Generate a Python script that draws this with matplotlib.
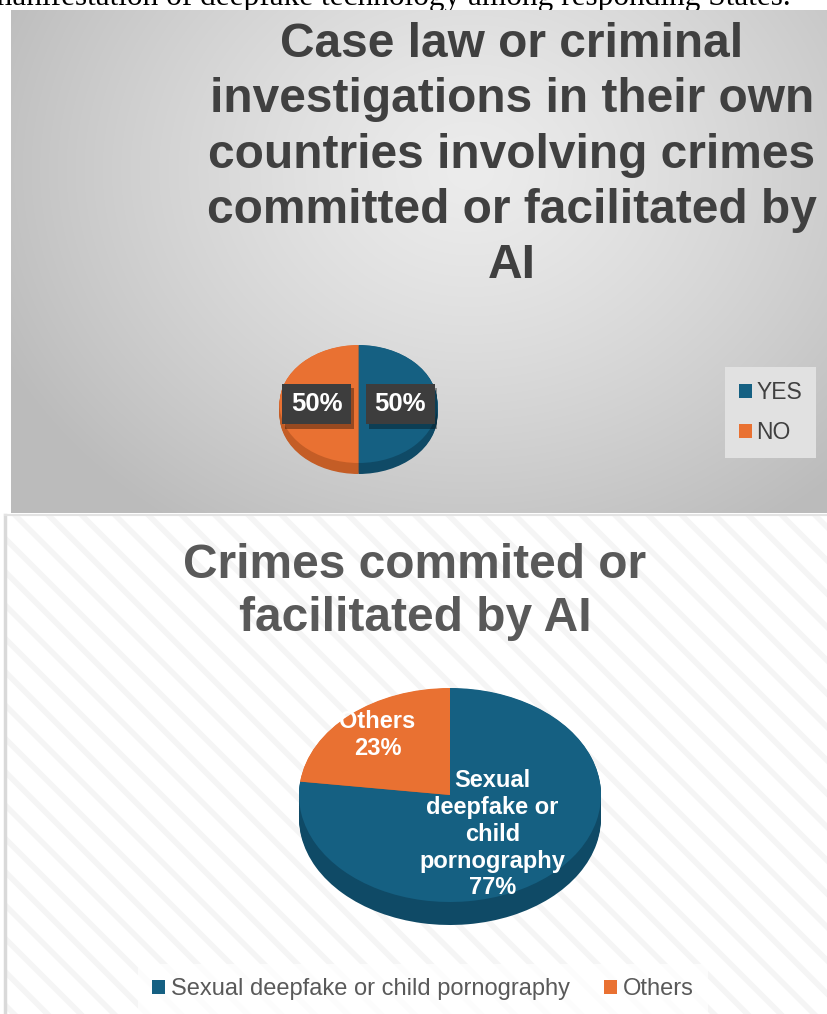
import numpy as np
import matplotlib
matplotlib.use("Agg")
import matplotlib.pyplot as plt
from matplotlib.patches import Rectangle
import matplotlib.patheffects as pe

plt.rcParams['font.family'] = ['Liberation Sans', 'DejaVu Sans']

# Chart 1: case law / investigations
cases_labels = ['YES', 'NO']
cases_values = [50, 50]

# Chart 2: type of crime
crime_labels = ['Sexual deepfake or child pornography', 'Others']
crime_pie_labels = ['Sexual\ndeepfake or\nchild\npornography', 'Others']
crime_values = [77, 23]

BLUE = '#156082'
ORANGE = '#E97132'
BLUE_SIDE = '#0f4a66'
ORANGE_SIDE = '#c45d26'

W, H = 828, 1014
fig = plt.figure(figsize=(W / 100, H / 100), dpi=100)

# full-size canvas in pixel coordinates for the backgrounds
bg = fig.add_axes([0, 0, 1, 1])
bg.set_xlim(0, W)
bg.set_ylim(H, 0)
bg.axis('off')

# header line of the surrounding document (the panel hides its lower part)
bg.text(-12, 5, 'manifestation of deepfake technology among responding States.',
        family='Liberation Serif', fontsize=22.5, color='black', va='baseline', ha='left',
        zorder=-1)

# top panel: grey radial gradient
x0, x1, y0, y1 = 11, 828, 10, 513
yy, xx = np.mgrid[y0:y1, x0:x1]
d = np.sqrt(((xx - 470) / 520.0) ** 2 + ((yy - 170) / 430.0) ** 2)
d = np.clip(d, 0, 1)
shade = 0.925 - 0.19 * d ** 1.3
img = np.dstack([shade, shade, shade])
bg.imshow(img, extent=(x0, x1, y1, y0), aspect='auto', interpolation='bilinear', zorder=0)

# bottom panel: white with faint diagonal stripes
plt.rcParams['hatch.linewidth'] = 4
bg.add_patch(Rectangle((5, 515), W - 5, H - 515, facecolor='white', edgecolor='none', zorder=0))
bg.add_patch(Rectangle((5, 515), W - 5, H - 515, facecolor='none', edgecolor='#f5f5f5',
                       hatch='\\', linewidth=0, zorder=0.5))
bg.plot([5, 5], [515, H], color='#d9d9d9', lw=2.5, zorder=1)
bg.plot([5, W], [515, 515], color='#e3e3e3', lw=1.5, zorder=1)

# titles
bg.text(512, 155, 'Case law or criminal\ninvestigations in their own\ncountries involving crimes\n'
        'committed or facilitated by\nAI', ha='center', va='center', fontsize=34.5,
        fontweight='bold', color='#404040', linespacing=1.29)
bg.text(415, 592, 'Crimes commited or\nfacilitated by AI', ha='center', va='center',
        fontsize=34.5, fontweight='bold', color='#595959', linespacing=1.22)


def pie_3d(cx, cy, rx, ry, depth, values, colors, side_colors):
    # axes sized so that one data unit is rx pixels wide and ry pixels high
    xl, xr, yb, yt = -1.1, 1.1, -1.6, 1.1
    left = cx + xl * rx
    ax = fig.add_axes([left / W, (H - (cy - yb * ry)) / H,
                       (xr - xl) * rx / W, (yt - yb) * ry / H])
    t = depth / ry
    for k in np.linspace(t, 0.005, 14):
        ax.pie(values, colors=side_colors, startangle=90, counterclock=False,
               center=(0, -k), radius=1, wedgeprops=dict(linewidth=0))
    wedges, _ = ax.pie(values, colors=colors, startangle=90, counterclock=False,
                       center=(0, 0), radius=1, wedgeprops=dict(linewidth=0))
    ax.set_aspect('auto')
    ax.set_xlim(xl, xr)
    ax.set_ylim(yb, yt)
    ax.axis('off')
    return ax, wedges


def mid_angle(values, i):
    total = float(sum(values))
    start = 90 - 360 * sum(values[:i]) / total
    return np.deg2rad(start - 180 * values[i] / total)


# chart 1
ax1, w1 = pie_3d(358.5, 404, 79, 59, 11, cases_values, [BLUE, ORANGE], [BLUE_SIDE, ORANGE_SIDE])
for i, v in enumerate(cases_values):
    a = mid_angle(cases_values, i)
    txt = ax1.text(0.53 * np.cos(a), 0.53 * np.sin(a) - 0.0, f'{v}%', ha='center', va='center',
                   fontsize=18.5, fontweight='bold', color='white',
                   bbox=dict(boxstyle='square,pad=0.33', facecolor='#3d3d3d', edgecolor='none'))
    txt.get_bbox_patch().set_path_effects(
        [pe.SimplePatchShadow(offset=(2, -3), shadow_rgbFace='black', alpha=0.35), pe.Normal()])

fig.legend(w1, cases_labels, loc='center', bbox_to_anchor=(770.5 / W, 1 - 412.5 / H),
           fontsize=16.5, frameon=True, facecolor='#e1e1e1', edgecolor='none', fancybox=False,
           framealpha=1, handlelength=0.55, handleheight=0.55, handletextpad=0.2,
           labelspacing=0.75, borderpad=0.6, borderaxespad=0, labelcolor='#404040')

# chart 2
ax2, w2 = pie_3d(450, 795, 151, 107, 23, crime_values, [BLUE, ORANGE], [BLUE_SIDE, ORANGE_SIDE])
label_pos = [(0.5, -0.05, 0.01), (0.62, -0.07, 0.1)]
for i, v in enumerate(crime_values):
    a = mid_angle(crime_values, i)
    dist, dx, dy = label_pos[i]
    ax2.text(dist * np.cos(a) + dx, dist * np.sin(a) + dy,
             f'{crime_pie_labels[i]}\n{v}%', ha='center', va='center', fontsize=17,
             fontweight='bold', color='white', linespacing=1.22)

fig.legend(w2, crime_labels, loc='center', bbox_to_anchor=(423 / W, 1 - 989 / H), ncol=2,
           fontsize=17, frameon=True, facecolor='white', edgecolor='none', fancybox=False,
           framealpha=0.8, handlelength=0.55, handleheight=0.55, handletextpad=0.25,
           columnspacing=1.45, borderpad=0.6, labelcolor='#595959')

fig.savefig('out.png', dpi=100)
